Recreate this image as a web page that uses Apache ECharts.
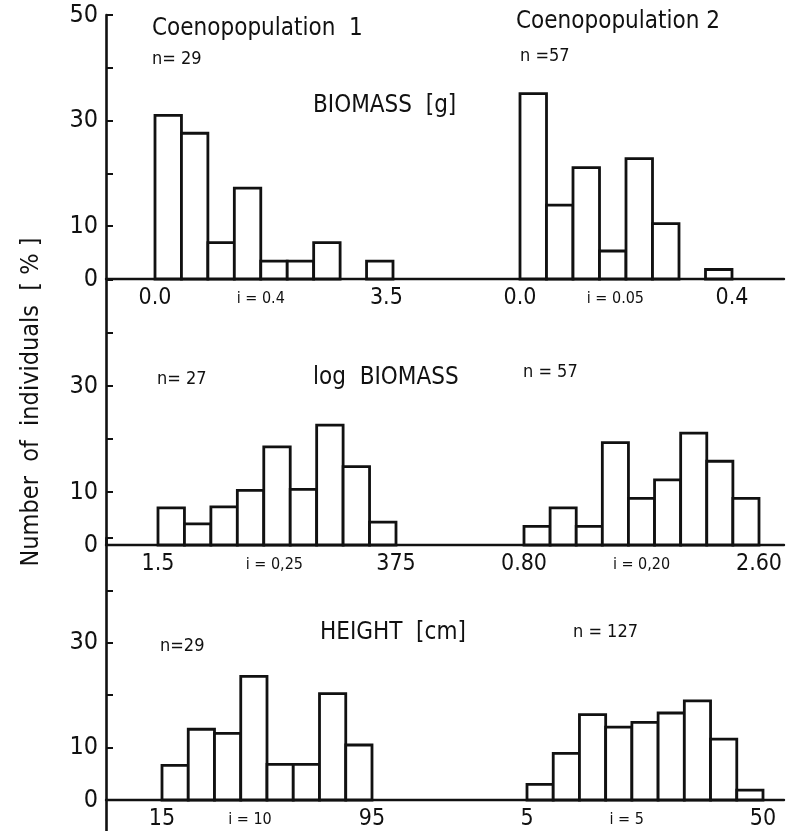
<!DOCTYPE html>
<html>
<head>
<meta charset="utf-8">
<script src="https://cdn.jsdelivr.net/npm/echarts@6/dist/echarts.min.js"></script>
<style>
  html, body { margin: 0; padding: 0; background: #fff; }
  #chart { width: 790px; height: 831px; }
</style>
</head>
<body>
<div id="chart"></div>
<script>
// percent of individuals per class
// Coenopopulation 1 / 2, biomass [g]
var bio1Start = 0.0, bio1Step = 0.4;
var bio1Pct = [31.0, 27.6, 6.9, 17.2, 3.4, 3.4, 6.9, 0, 3.4];
var bio2Start = 0.0, bio2Step = 0.05;
var bio2Pct = [35.1, 14.0, 21.1, 5.3, 22.8, 10.5, 0, 1.8];

// log biomass
var log1Start = 1.5, log1Step = 0.25;
var log1Pct = [7.0, 4.0, 7.2, 10.3, 18.5, 10.5, 22.6, 14.8, 4.3];
var log2Start = 0.8, log2Step = 0.2;
var log2Pct = [3.5, 7.0, 3.5, 19.3, 8.8, 12.3, 21.1, 15.8, 8.8];

// height [cm]
var hgt1Start = 15, hgt1Step = 10;
var hgt1Pct = [6.6, 13.5, 12.7, 23.6, 6.8, 6.8, 20.3, 10.5];
var hgt2Start = 5, hgt2Step = 5;
var hgt2Pct = [3.0, 8.9, 16.3, 13.9, 14.8, 16.6, 18.9, 11.6, 1.9];

// x tick labels (value -> text)
var bio1Labels = [[0, '0.0'], [1.6, 'i = 0.4'], [3.5, '3.5']];
var bio2Labels = [[0, '0.0'], [0.18, 'i = 0.05'], [0.4, '0.4']];
var log1Labels = [[1.5, '1.5'], [2.6, 'i = 0,25'], [3.75, '375']];
var log2Labels = [[0.8, '0.80'], [1.7, 'i = 0,20'], [2.6, '2.60']];
var hgt1Labels = [[15, '15'], [48.5, 'i = 10'], [95, '95']];
var hgt2Labels = [[5, '5'], [24, 'i = 5'], [50, '50']];

var yTickValues = [10, 20, 30, 40, 50];
var yLabelsTop = [0, 10, 30, 50];
var yLabelsLow = [0, 10, 30];

var FONT = "'DejaVu Sans Condensed', 'DejaVu Sans', sans-serif";
var INK = '#111';

function bins(start, step, pct) {
  return pct.map(function (v, k) {
    return [start + k * step, start + (k + 1) * step, v];
  });
}

function renderBar(params, api) {
  var v = api.value(2);
  if (!v) return null;
  var p0 = api.coord([api.value(0), 0]);
  var p1 = api.coord([api.value(1), v]);
  return {
    type: 'rect',
    shape: { x: p0[0], y: p1[1], width: p1[0] - p0[0], height: p0[1] - p1[1] },
    style: { fill: '#fff', stroke: INK, lineWidth: 2.8 }
  };
}

// panel rows: top px, zero line px, y min of the frame axis (last one runs below 0)
var rows = [
  { top: 15, zero: 279, ymin: 0, ylabels: yLabelsTop },
  { top: 280, zero: 545, ymin: 0, ylabels: yLabelsLow },
  { top: 538, zero: 800, ymin: -6, ylabels: yLabelsLow }
];

// histograms: row, left px, width px, value range, data, labels
var hists = [
  { row: 0, left: 155, width: 238, min: 0, max: 3.6, data: bins(bio1Start, bio1Step, bio1Pct), labels: bio1Labels },
  { row: 0, left: 520, width: 212, min: 0, max: 0.4, data: bins(bio2Start, bio2Step, bio2Pct), labels: bio2Labels },
  { row: 1, left: 158, width: 238, min: 1.5, max: 3.75, data: bins(log1Start, log1Step, log1Pct), labels: log1Labels },
  { row: 1, left: 524, width: 235, min: 0.8, max: 2.6, data: bins(log2Start, log2Step, log2Pct), labels: log2Labels },
  { row: 2, left: 162, width: 210, min: 15, max: 95, data: bins(hgt1Start, hgt1Step, hgt1Pct), labels: hgt1Labels },
  { row: 2, left: 527, width: 236, min: 5, max: 50, data: bins(hgt2Start, hgt2Step, hgt2Pct), labels: hgt2Labels }
];

var grid = [], xAxis = [], yAxis = [], series = [];

// frame grids: y axis with ticks and the long baseline
rows.forEach(function (r, i) {
  var h50 = r.zero - r.top;
  var h = h50 * (50 - r.ymin) / 50;
  grid.push({ left: 106, right: 6, top: r.top, height: h, containLabel: false, outerBoundsMode: 'none' });
  xAxis.push({
    type: 'value', gridIndex: i, min: 0, max: 1,
    axisLine: { onZero: true, lineStyle: { color: INK, width: 2.4 } },
    axisTick: { show: false }, axisLabel: { show: false }, splitLine: { show: false }
  });
  yAxis.push({
    type: 'value', gridIndex: i, min: r.ymin, max: 50,
    axisLine: { show: true, onZero: false, lineStyle: { color: INK, width: 2.6 } },
    axisTick: { show: true, inside: true, length: 7, customValues: yTickValues, lineStyle: { color: INK, width: 2 } },
    axisLabel: { customValues: r.ylabels, color: INK, fontSize: 25, fontFamily: FONT, margin: 8 },
    splitLine: { show: false }
  });
});

// histogram grids, 0..50 from the panel's zero line up
hists.forEach(function (h, k) {
  var r = rows[h.row];
  var gi = rows.length + k;
  grid.push({ left: h.left, width: h.width, top: r.top, height: r.zero - r.top, containLabel: false, outerBoundsMode: 'none' });
  var names = {};
  h.labels.forEach(function (l) { names[l[0]] = l[1]; });
  xAxis.push({
    type: 'value', gridIndex: gi, min: h.min, max: h.max, position: 'bottom',
    axisLine: { show: false },
    axisTick: { show: false }, splitLine: { show: false },
    axisLabel: {
      customValues: h.labels.map(function (l) { return l[0]; }),
      showMinLabel: true, showMaxLabel: true, hideOverlap: false,
      margin: 8, color: INK, fontFamily: FONT,
      formatter: function (v) {
        var t = names[v];
        return t.indexOf('i') === 0 ? '{s|' + t + '}' : '{b|' + t + '}';
      },
      rich: {
        b: { fontSize: 23, fontFamily: FONT, color: INK },
        s: { fontSize: 16, fontFamily: FONT, color: INK, padding: [4, 0, 0, 0] }
      }
    }
  });
  yAxis.push({ type: 'value', gridIndex: gi, min: 0, max: 50, show: false });
  series.push({
    type: 'custom', xAxisIndex: gi, yAxisIndex: gi,
    encode: { x: [0, 1], y: 2 },
    renderItem: renderBar, data: h.data, silent: true
  });
});

function txt(x, y, s, size) {
  return { type: 'text', x: x, y: y, silent: true,
    style: { text: s, fontSize: size, fontFamily: FONT, fill: INK, verticalAlign: 'middle' } };
}

var graphics = [
  txt(152, 29, 'Coenopopulation  1', 24),
  txt(516, 22, 'Coenopopulation 2', 24),
  txt(152, 59, 'n= 29', 18),
  txt(520, 56, 'n =57', 18),
  txt(313, 106, 'BIOMASS  [g]', 24),
  txt(157, 379, 'n= 27', 18),
  txt(313, 378, 'log  BIOMASS', 24),
  txt(523, 372, 'n = 57', 18),
  txt(160, 646, 'n=29', 18),
  txt(320, 633, 'HEIGHT  [cm]', 24),
  txt(573, 632, 'n = 127', 18),
  {
    type: 'text', x: 31, y: 402, rotation: Math.PI / 2, silent: true,
    style: { text: 'Number  of  individuals  [ % ]', fontSize: 25, fontFamily: FONT, fill: INK,
      align: 'center', verticalAlign: 'middle' }
  }
];

var chart = echarts.init(document.getElementById('chart'), null, { renderer: 'canvas' });
chart.setOption({
  animation: false,
  backgroundColor: '#fff',
  grid: grid,
  xAxis: xAxis,
  yAxis: yAxis,
  series: series,
  graphic: graphics
});
</script>
</body>
</html>
